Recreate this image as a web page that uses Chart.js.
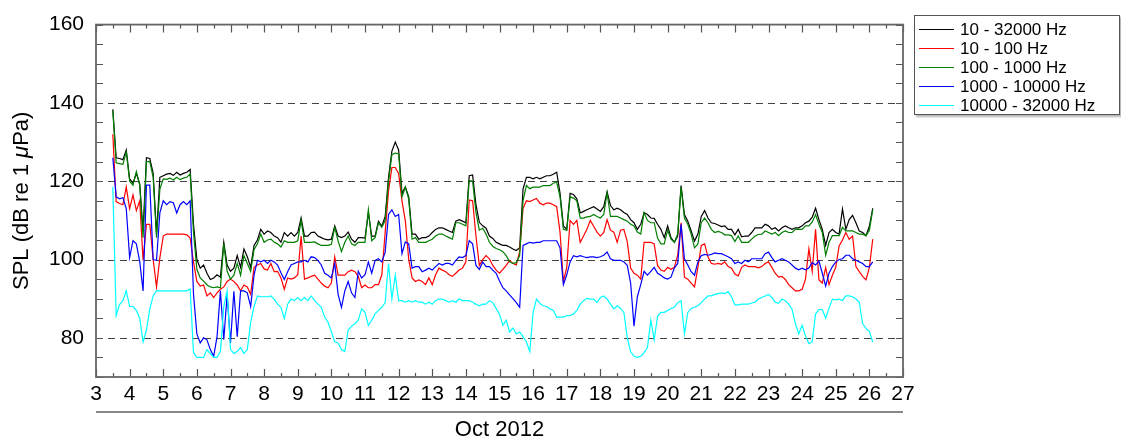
<!DOCTYPE html>
<html>
<head>
<meta charset="utf-8">
<script src="https://cdn.jsdelivr.net/npm/chart.js@4.4.0/dist/chart.umd.min.js"></script>
<style>
  html, body { margin: 0; padding: 0; background: #fff; }
  #wrap { position: relative; width: 1121px; height: 445px; }
  #legend {
    position: absolute; left: 914px; top: 15px; width: 206px; height: 100px;
    box-sizing: border-box; border: 1px solid #555; background: #fff;
    box-shadow: 2px 2px 2px rgba(0,0,0,0.3);
    font: 17px 'Liberation Sans', Arial, sans-serif; color: #000; padding-top: 4px;
  }
  .row { height: 19px; display: flex; align-items: center; white-space: nowrap; }
  .sw { width: 35px; height: 0; border-top: 1.3px solid; margin: 0 6px 0 4px; }
</style>
</head>
<body>
<div id="wrap">
  <canvas id="myChart" width="1121" height="445"></canvas>
  <div id="legend"></div>
</div>
<script>
const ctx = document.getElementById('myChart').getContext('2d');

// days of October 2012, one sample every 0.1 day from 3.5 to 26.1
const days = Array.from({ length: 227 }, (_, i) => Math.round(35 + i) / 10);

const labels = ['10 - 32000 Hz', '10 - 100 Hz', '100 - 1000 Hz', '1000 - 10000 Hz', '10000 - 32000 Hz'];
const colors = ['#000000', '#ff0000', '#007f00', '#0000ff', '#00ffff'];

const band10to32k = [
  138.4, 126, 125.8, 125.5, 128, 120.6, 119.5, 122, 119.3, 107.3,
  126, 125.8, 122, 106.5, 121, 121.4, 121.8, 122, 121.5, 122.3,
  121.6, 122, 122.3, 123, 109, 100, 97.8, 98.6, 96.5, 94.9,
  95.3, 96.1, 95.5, 104.4, 98.6, 97, 97.8, 101, 98, 102.7,
  100.7, 98, 103.6, 105, 107.7, 106.5, 107.3, 106.9, 106, 105.6,
  104.4, 106.9, 106, 106.9, 106, 106.9, 110.6, 106, 106, 106.9,
  107, 106, 105.6, 105.2, 105, 105.2, 108.6, 106, 105.6, 106,
  107, 105.2, 104.4, 105.6, 105.6, 105.5, 112, 106, 106, 109.8,
  108.5, 111, 121, 127.7, 130, 128, 116.9, 118.5, 116, 106.5,
  106.5, 105.2, 105.6, 105.6, 106, 106.9, 107.7, 108.1, 108.1, 107.7,
  107.3, 106.9, 109.8, 110.2, 109.8, 109.4, 121.4, 121.6, 114, 109.5,
  108.6, 108, 106, 105.4, 104.4, 104, 103.6, 103.6, 103.2, 102.7,
  102.3, 103, 118, 121, 121, 120.6, 121, 120.6, 121, 121.4,
  121.4, 121.8, 122.3, 117, 108.6, 107.7, 116.9, 116.6, 115.5, 111.9,
  112.3, 112.7, 113.1, 113.5, 112.9, 112.3, 113.5, 117.3, 113.8, 112.7,
  113.1, 112.7, 112, 111.5, 110.2, 109.4, 107.7, 109, 112, 111.5,
  110.6, 110.5, 109, 107.7, 105.6, 108.6, 105.6, 104.4, 106, 118.9,
  111.5, 109.8, 107.3, 104.7, 106.5, 111, 112.5, 110.6, 109.4, 109.2,
  108.8, 108.4, 108.6, 107.7, 107.7, 106.3, 107.7, 105.8, 106, 106,
  106.9, 108.1, 108.1, 108.1, 109, 108.6, 107.7, 108.1, 107.3, 108.1,
  108.6, 108.1, 107.7, 108.1, 108.1, 108.6, 109.4, 109.8, 110.8, 113.1,
  110.2, 107.7, 103.6, 106.9, 107.7, 106.9, 106.5, 112.9, 107.7, 110.2,
  111.3, 109.4, 107.3, 106.9, 106.1, 108.5, 113.1
];

const band10to100 = [
  132, 114.8, 114.3, 114, 118.5, 113, 116.5, 112.5, 115, 99.8,
  109, 109, 100, 93, 100.5, 106, 106.5, 106.5, 106.5, 106.5,
  106.5, 106.5, 106.3, 105.5, 99.4, 94.4, 93.2, 93.5, 90.7, 91.5,
  90.3, 91.5, 92.4, 93, 94.4, 95, 94.4, 93.5, 92, 93.5,
  93, 91.1, 98, 98.6, 99, 97.6, 97.3, 99, 96.9, 97,
  95.3, 92.4, 95.3, 95, 95.3, 96.1, 106, 95, 95.3, 95.7,
  96, 95, 94, 93.2, 92.8, 94, 100.7, 96, 96, 96,
  96.9, 97.3, 96.9, 95.7, 92.8, 93.5, 92.8, 92.8, 93.6, 93.6,
  96.1, 107, 117.5, 123.5, 123.5, 122, 115, 109.8, 100, 95.3,
  94.4, 94.8, 94.4, 93.6, 95.3, 93.6, 96.1, 97.8, 97.3, 96.9,
  96.1, 95.7, 96.5, 97.3, 97.8, 99.4, 115.2, 115, 106, 98.5,
  100, 101, 100.2, 98.5, 97.3, 96.5, 97.5, 98.5, 99.8, 99,
  98.6, 102, 113, 115, 114.8, 115.2, 115.6, 114.4, 114, 114.4,
  114.4, 114, 113.5, 107, 94.4, 98, 110, 109, 110, 104.4,
  106, 107.7, 110, 108.5, 107, 106, 106.9, 110.2, 107.5, 107,
  104.4, 107.5, 107.7, 104.5, 97.8, 96.5, 96, 95, 104.4, 104.4,
  104.4, 104, 98.5, 97.3, 97, 98, 97.5, 98, 101.1, 109.4,
  95.5, 95, 94, 93, 98, 103.6, 104, 100.7, 99, 98.8,
  99, 98.8, 99.4, 98.2, 97.8, 96.3, 95.8, 98, 98.6, 98.2,
  98.2, 98.2, 97.9, 98.2, 99, 99.4, 98, 96.5, 95.5, 95.7,
  94.9, 93.6, 92.8, 92, 92, 92.4, 95, 102.7, 97, 107.7,
  94.8, 94, 98, 93.6, 96, 98, 103.5, 105, 106.9, 105.2,
  106, 98.2, 96.9, 95.7, 94.8, 98, 105.2
];

const band100to1k = [
  138, 124.7, 124.5, 124.3, 127.5, 120, 119, 122.5, 119, 105.6,
  125, 125, 121, 105.6, 118, 120.6, 120.5, 120.8, 120.3, 121,
  120.4, 120.8, 121, 121.8, 107, 97.5, 95.3, 94.5, 93.5, 93,
  92.8, 93, 92.8, 104, 97, 95, 96, 99, 96, 101,
  99, 97, 102.5, 104, 106.5, 104.4, 105, 105.2, 104.4, 104,
  103.2, 104.8, 104.4, 104.4, 104.4, 104.8, 110, 104.4, 104.4, 104.4,
  104.5, 104, 103.6, 103.6, 103.6, 103.9, 108.2, 104.8, 102, 104.4,
  106, 104, 103.6, 104.4, 104.4, 104.4, 112.7, 104.8, 105.6, 109.4,
  108.2, 110, 120, 126.8, 127.2, 127, 116, 118.5, 115.5, 105.2,
  105.6, 104.4, 104.4, 104.4, 104.8, 105.2, 106, 106.5, 106.5, 106,
  105.6, 105.2, 109.4, 109.4, 109, 108.6, 120.2, 120, 112, 107.5,
  108, 106.5, 104.4, 103.4, 102.8, 102.5, 102, 101, 99.4, 99,
  99.2, 101, 115, 118.9, 118.1, 118.5, 118.5, 118.5, 118.9, 118.9,
  118.9, 119.5, 119.8, 116, 107.7, 107.5, 116, 115.7, 115, 110.6,
  110.6, 110.9, 111, 111.5, 111, 110.6, 111.5, 117, 111, 111,
  111, 110.6, 110.2, 109.8, 109, 108.6, 107, 106.5, 112, 110,
  109.4, 109.4, 105.5, 104, 104, 107.5, 105.2, 104.4, 106.5, 118.5,
  110.6, 109, 106.5, 103, 104, 109.4, 110.6, 109.4, 107.7, 106.9,
  107.2, 106.9, 106.3, 106.3, 106.1, 104.6, 106, 104.4, 104.4, 104.4,
  105.2, 106, 106.4, 106.5, 107.3, 106.9, 106.5, 106.9, 106.1, 106.9,
  107.3, 106.9, 106.9, 107.7, 107.7, 107.7, 108.6, 108.6, 109.6, 111.5,
  109, 106.9, 101.1, 104.4, 106.1, 106.1, 106.1, 108.2, 107.3, 107.3,
  107.3, 106.9, 106.5, 106.5, 106.1, 107.5, 112.7
];

const band1kto10k = [
  126, 116, 115.5, 115.8, 113, 100.5, 104.8, 104, 99.5, 92,
  119, 119, 100, 99.8, 112, 115, 114, 114.8, 114.5, 111.9,
  114, 114.8, 114, 115, 91.1, 81, 78.7, 80, 79.5, 77,
  75.3, 80.3, 92, 79.5, 91.1, 78.7, 91.9, 80.3, 92, 92,
  91.5, 88, 96, 99.8, 99.4, 99.8, 99, 99.8, 99.4, 98.6,
  96.6, 94.9, 96.9, 98.6, 99, 99.4, 99.4, 99.8, 99.4, 100.7,
  100.5, 99.8, 98.6, 96.5, 96, 95.3, 99, 91.1, 87.8, 92,
  94.4, 91.5, 90.3, 97, 95.3, 96.1, 99.4, 96.5, 99.8, 100.2,
  99.4, 101.9, 111.5, 112.7, 111, 111.5, 101.5, 104.5, 104, 97.8,
  98.2, 98.2, 96.9, 97.3, 97.8, 97.3, 98.2, 99, 98.6, 99,
  99, 98.6, 99.8, 100.7, 100.5, 101, 104.8, 104, 98.5, 97.5,
  99.4, 98.2, 98.2, 97.3, 96.5, 94.5, 92.8, 92, 91, 90,
  89, 87.8, 103.6, 104, 104.4, 104.2, 104.4, 104.4, 104.8, 104.8,
  104.8, 104.8, 104.8, 103, 93.6, 96.1, 99.4, 101, 100.7, 101,
  100.7, 100.5, 100.7, 100.7, 100.5, 100.7, 101.1, 101.9, 100.2, 99.8,
  99.8, 99.8, 99.4, 98.5, 94, 83, 90.5, 93.6, 97, 96,
  97, 98, 96.5, 96, 95.3, 95, 95.5, 97.8, 99, 109,
  100.2, 98.6, 96.9, 96, 99.4, 101, 101.3, 101.1, 101.3, 101.7,
  101.5, 101.5, 101.1, 100.7, 100.2, 99, 99.4, 99, 99.8, 99.4,
  100.2, 100.2, 100.2, 100.2, 101.5, 101.9, 100.5, 99.4, 99.8, 100.2,
  99.8, 99.4, 98.6, 97.8, 97.4, 97.8, 97.4, 97.8, 99.2, 98.6,
  99.6, 96.5, 93.2, 96.5, 98.2, 99.4, 100, 100.2, 101.1, 101.1,
  100.2, 99.8, 99.4, 99, 98.2, 98.2, 99.4
];

const band10kto32k = [
  118.5, 85.7, 88.5, 89.5, 92, 88, 88, 87, 85, 79,
  82, 87.4, 90.7, 92, 92, 92, 92, 92, 92, 92,
  92, 92, 92, 92.5, 76.2, 75, 75, 75, 77, 76,
  75, 75, 76.5, 88, 92, 77, 76, 76.5, 77.5, 76,
  77, 84, 88, 90.7, 90.5, 90.5, 90.5, 90.7, 89.9, 88.6,
  87.8, 84.9, 88.6, 89.9, 89.5, 90.3, 89.5, 90.3, 89.5, 90.7,
  89.5, 88.6, 87.8, 85.3, 84, 81.6, 79, 78.7, 77, 76.5,
  82, 83, 83.6, 84.5, 87.4, 86.5, 83.2, 84.5, 86.1, 87,
  87.8, 89, 99, 90, 96, 89.5, 89.5, 89.1, 89.5, 89.1,
  89.5, 89.1, 89.1, 88.6, 89.1, 88.6, 89.5, 89.9, 89.9, 89.5,
  89.1, 89.5, 89.1, 89.9, 89.5, 89.5, 89.5, 89.1, 88.6, 88.2,
  88.6, 88.6, 89.5, 89, 87.5, 86, 83.2, 84.5, 81.5, 82.5,
  81, 81.5, 80.3, 79, 76.5, 86.5, 89.9, 88.8, 88.2, 88,
  87.4, 87, 85.3, 85.3, 85.3, 85.7, 85.7, 86.1, 87, 88.6,
  89.5, 90.1, 89.9, 89.9, 89, 90.3, 90.7, 89.9, 88.6, 87.4,
  88.2, 87.5, 86.5, 80, 76.5, 75.3, 75, 75.3, 76.2, 77.5,
  84.5, 79.5, 85.5, 86.5, 86.5, 87, 87.5, 87.8, 89, 89.5,
  81, 86.5, 87.5, 87.8, 88.2, 89, 89.9, 90.7, 90.7, 91.1,
  91.3, 91.5, 91.3, 91.8, 90.5, 88.4, 88.4, 88.6, 88.6, 88.6,
  88.9, 89.1, 89.9, 90.3, 90.7, 91.1, 90.3, 89.1, 88.8, 89.9,
  89.5, 88.6, 87.3, 83.6, 81, 83.2, 80.5, 78.5, 79, 86.1,
  87.2, 87.2, 85, 87.6, 89.9, 89.7, 89.9, 89.5, 90.7, 90.7,
  90.5, 89.9, 89.1, 83.6, 82.4, 81.6, 78.9
];

const series = [band10to32k, band10to100, band100to1k, band1kto10k, band10kto32k];

const xTicks = [3, 27];          // day range on the x axis
const yTicks = [70, 160];        // SPL range
const yLabelled = [80, 100, 120, 140, 160];
const dashedAt = [80, 100, 120, 140];

const FONT = "'Liberation Sans', Arial, Helvetica, sans-serif";

const data = {
  datasets: series.map((vals, i) => ({
    label: labels[i],
    data: vals.map((v, j) => ({ x: days[j], y: v })),
    borderColor: colors[i],
    borderWidth: 1.2,
    pointRadius: 0,
    tension: 0,
    order: series.length - i, // later bands on top, like the original
  })),
};

// frame, inward ticks, dashed lines, axis underline and y title
const framePlugin = {
  id: 'frame',
  beforeDatasetsDraw(chart) {
    const { ctx, chartArea: a, scales: { y } } = chart;
    ctx.save();
    ctx.setLineDash([7, 5]);
    ctx.lineWidth = 1.2;
    ctx.strokeStyle = '#444';
    dashedAt.forEach((v) => {
      const py = Math.round(y.getPixelForValue(v)) + 0.5;
      ctx.beginPath();
      ctx.moveTo(a.left, py);
      ctx.lineTo(a.right, py);
      ctx.stroke();
    });
    ctx.restore();
  },
  afterDatasetsDraw(chart) {
    const { ctx, chartArea: a, scales: { x, y } } = chart;
    ctx.save();
    ctx.strokeStyle = '#555';
    ctx.lineWidth = 1.2;
    ctx.beginPath();
    for (let k = xTicks[0] * 2; k <= xTicks[1] * 2; k++) {
      const px = Math.round(x.getPixelForValue(k / 2)) + 0.5;
      const len = k % 2 === 0 ? 8 : 4;
      ctx.moveTo(px, a.bottom); ctx.lineTo(px, a.bottom - len);
      ctx.moveTo(px, a.top); ctx.lineTo(px, a.top + len);
    }
    for (let v = yTicks[0]; v <= yTicks[1]; v += 5) {
      const py = Math.round(y.getPixelForValue(v)) + 0.5;
      ctx.moveTo(a.left, py); ctx.lineTo(a.left + 7, py);
      ctx.moveTo(a.right, py); ctx.lineTo(a.right - 7, py);
    }
    ctx.stroke();
    ctx.lineWidth = 1.8;
    ctx.strokeStyle = '#666';
    ctx.strokeRect(a.left, a.top, a.right - a.left, a.bottom - a.top);
    ctx.restore();
  },
  afterDraw(chart) {
    const { ctx, chartArea: a } = chart;
    ctx.save();
    // line between the day numbers and the month label
    ctx.strokeStyle = '#888';
    ctx.lineWidth = 2;
    ctx.beginPath();
    ctx.moveTo(a.left, 412);
    ctx.lineTo(a.right, 412);
    ctx.stroke();

    // y title with an italic mu
    const parts = [
      { t: 'SPL (dB re 1 ', f: '22px ' + FONT },
      { t: '\u03bc', f: 'italic 22px ' + FONT },
      { t: 'Pa)', f: '22px ' + FONT },
    ];
    let total = 0;
    parts.forEach((p) => { ctx.font = p.f; p.w = ctx.measureText(p.t).width; total += p.w; });
    ctx.translate(22, (a.top + a.bottom) / 2);
    ctx.rotate(-Math.PI / 2);
    ctx.fillStyle = '#000';
    ctx.textBaseline = 'middle';
    let cx = -total / 2;
    parts.forEach((p) => { ctx.font = p.f; ctx.fillText(p.t, cx, 0); cx += p.w; });
    ctx.restore();
  },
};

const config = {
  type: 'line',
  data: data,
  options: {
    responsive: false,
    animation: false,
    layout: { padding: { top: 15, right: 218, bottom: 0, left: 0 } },
    plugins: { legend: { display: false }, tooltip: { enabled: false } },
    scales: {
      x: {
        type: 'linear',
        min: xTicks[0],
        max: xTicks[1],
        grid: { display: false, drawTicks: false },
        border: { display: false },
        ticks: {
          stepSize: 1,
          autoSkip: false,
          maxRotation: 0,
          padding: 5,
          color: '#000',
          font: { size: 21, family: FONT },
        },
        title: {
          display: true,
          text: 'Oct 2012',
          color: '#000',
          font: { size: 22, family: FONT },
          padding: { top: 0, bottom: 2 },
        },
        afterFit(scale) { scale.height = 68; },
      },
      y: {
        min: yTicks[0],
        max: yTicks[1],
        grid: { display: false, drawTicks: false },
        border: { display: false },
        ticks: {
          stepSize: 10,
          padding: 12,
          color: '#000',
          font: { size: 21, family: FONT },
          callback: (value) => (yLabelled.includes(value) ? value : ''),
        },
        afterFit(scale) { scale.width = 96; },
      },
    },
  },
  plugins: [framePlugin],
};

const myChart = new Chart(ctx, config);

// legend box from the same labels/colours
const legend = document.getElementById('legend');
labels.forEach((name, i) => {
  const row = document.createElement('div');
  row.className = 'row';
  const sw = document.createElement('span');
  sw.className = 'sw';
  sw.style.borderTopColor = colors[i];
  const txt = document.createElement('span');
  txt.textContent = name;
  row.appendChild(sw);
  row.appendChild(txt);
  legend.appendChild(row);
});
</script>
</body>
</html>
